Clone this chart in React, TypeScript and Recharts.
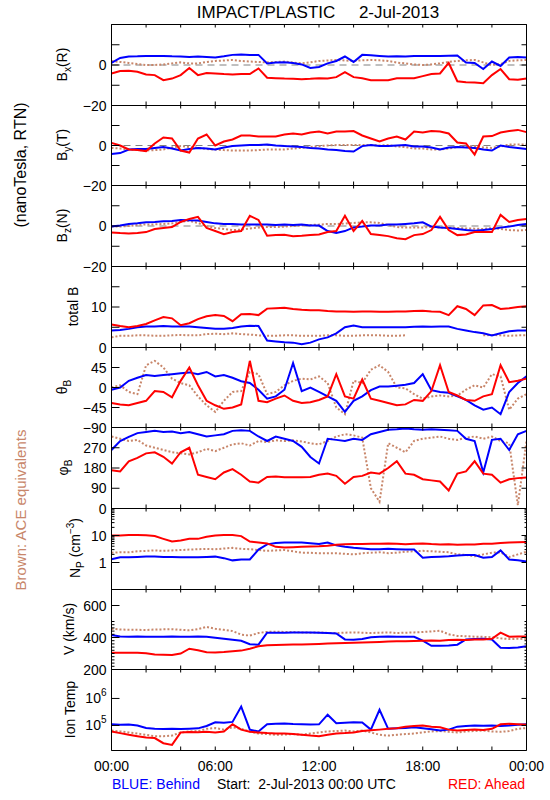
import React from "react";
import { LineChart, Line, XAxis, YAxis, ReferenceLine } from "recharts";

const FONT = "'Liberation Sans', Arial, sans-serif";
const BLUE = "#0000ff";
const RED = "#ff0000";
const BROWN = "#c8866a";

// half-hour samples, 2-Jul-2013 00:00 .. 3-Jul 00:00
const HOURS = [
  0, 0.5, 1, 1.5, 2, 2.5, 3, 3.5, 4, 4.5, 5, 5.5, 6, 6.5, 7, 7.5, 8, 8.5, 9, 9.5, 10, 10.5, 11, 11.5, 12,
  12.5, 13, 13.5, 14, 14.5, 15, 15.5, 16, 16.5, 17, 17.5, 18, 18.5, 19, 19.5, 20, 20.5, 21, 21.5, 22, 22.5,
  23, 23.5, 24,
];
const TIME_TICKS = [0, 2, 4, 6, 8, 10, 12, 14, 16, 18, 20, 22, 24];
const TIME_LABELS = ["00:00", "", "", "06:00", "", "", "12:00", "", "", "18:00", "", "", "00:00"];

// Bx (R)
const BX_BLUE = [1, 3.5, 4.2, 4.3, 4.5, 4.5, 4.5, 4.3, 4.2, 4.0, 4.2, 4.0, 3.7, 4.3, 5.0, 5.2, 5.0, 5.0, 0.8, 1.2, 1.3, 1.0, 0.3, -1.5, -1.0, 0.8, 2.0, 4.2, 1.5, 5.0, 4.8, 4.5, 4.2, 4.3, 4.2, 4.4, 4.5, 4.5, 4.5, 4.6, 4.7, 1.2, 1.0, -2.0, 1.7, -0.5, 3.7, 4.0, 3.7];
const BX_RED = [-4.2, -3.0, -2.8, -3.3, -4.7, -5.0, -7.5, -6.7, -5.0, -1.5, -5.0, -4.0, -4.2, -4.5, -4.7, -4.5, -4.5, -1.7, -6.3, -6.5, -6.7, -6.8, -7.0, -6.8, -6.5, -6.7, -6.0, -3.5, -6.0, -6.5, -7.5, -7.5, -7.5, -6.5, -6.5, -6.5, -5.5, -4.5, -4.2, 1.0, -8.0, -8.5, -8.7, -9.0, -5.0, -2.0, -7.0, -7.3, -6.7];
const BX_ACE = [2, 1.5, 1, 0.5, 0, 0, 0.3, 0.8, 1.3, 0.8, 0.8, 1.5, 2, 2.2, 2.5, 2, 1.7, 1.5, 1.3, 1.5, 1.7, 1.2, 0.8, 1.3, 2, 2.2, 2.5, 2.2, 2, 2.3, 2.5, 2.3, 2, 1.2, 0.8, 0.3, 0, 0.3, 0.8, 1.5, 2, 2.3, 2.5, 1.3, 0, 0.5, 2, 2.3, 2.5];

// By (T)
const BY_BLUE = [-4.2, -3.8, -2, -1.8, -1.7, -1.2, -0.8, -1.5, -2.5, -1.8, -1.2, -1.5, -2, -1, -0.3, 0, 0.2, 0.3, 0.5, 0, -0.3, -0.5, -0.8, -1.2, -1.5, -2, -2.2, -2.8, -3.0, -0.3, 0.2, -0.2, -0.3, 0, 0.2, -0.5, -0.5, -1, -2, -1, -0.8, -1, -1.2, -2, -2.5, 0, -0.8, -1.2, -1.7];
const BY_RED = [1.3, 0, -2, -2.3, -2.8, 1, 4, 3.5, -2.5, -3.5, 3.5, 5.5, 0, 2, 3, 5, 5, 4.5, 4.5, 4.5, 5.5, 6, 5.5, 6.5, 7, 6, 7, 7, 7.2, 5, 3.5, 2, 3.5, 4.5, 3, 7, 6.5, 7.2, 7, 6, 1.5, 1, -4.5, 4.5, 4.7, 6.5, 7.2, 7.8, 6.7];
const BY_ACE = [-1.2, -1.5, -2, -2.2, -2.5, -2.3, -2, -1, -0.3, -0.8, -1.2, -1.8, -2, -2.3, -2.5, -2.5, -2.5, -2.3, -2, -2, -2, -1.5, -1.2, -0.8, -0.3, 0, 0.2, 0.2, 0.2, 0.2, 0.2, 0, 0.2, -0.5, -0.8, -1.5, -1.5, -2, -2, -1.5, -0.8, -0.5, -0.3, -1, -1.2, -0.5, 0.5, 0.5, 0.5];

// Bz (N)
const BZ_BLUE = [-0.3, 0.3, 1, 1.3, 1.8, 2, 2.3, 2.5, 3, 2.8, 2.7, 2, 1.3, 1, 1, 0.8, 0.7, 0.7, 0.7, 0.5, 0.7, 0.5, 0.7, 0.3, 0.2, -2.5, -3.5, -2.5, -0.7, -0.3, 0.2, 0.3, 0.7, 0.7, 1, 1.3, 1.8, -0.3, -0.7, -1, -1.5, -2, -2.3, -2, -1.5, -0.8, -0.3, 0.5, 1];
const BZ_RED = [-3.2, -3.5, -3.7, -3.5, -3, -1.5, -1, -0.5, 2, 3.5, 4.5, -1, -2.5, -4, -3, -2.5, 5, 3, -4.8, -4.5, -4.3, -5, -4.8, -4.5, -4.2, -3, -2.5, 5, -2.5, 2.5, -4, -4.5, -5, -6, -6.5, -4.5, -4, -2, 4.5, -2, -4.5, -4.2, -3, -3, -3, 5.5, 2, 3, 3.5];
const BZ_ACE = [-0.3, -0.3, 0, 0.5, 0.8, 0.8, 1, 1.3, 2, 2.6, 1.5, 0, -1, -1.5, -2, -1.8, -1.2, -0.8, -0.5, -0.5, -0.3, 0, 0.3, 0.5, 0.7, 1, 1, 1.2, 1.5, 1.8, 1.8, 1.5, 0.5, -0.5, -0.8, -0.7, -0.7, -0.5, -0.7, -0.8, -1, -1.2, -1.3, -1.5, -1, -1.5, -2, -2.2, -2];

// total B
const BT_BLUE = [4.2, 4.3, 4.6, 5.0, 5.2, 5.2, 5.3, 5.2, 5.2, 5.2, 5.0, 4.8, 4.6, 4.6, 4.8, 5.2, 5.4, 5.3, 1.7, 1.5, 1.3, 1.2, 0.8, 1.2, 2.0, 2.5, 3.5, 5.0, 5.4, 5.0, 5.0, 5.0, 5.0, 5.0, 5.0, 5.1, 5.2, 5.1, 5.2, 5.2, 4.6, 4.2, 3.8, 3.5, 3.0, 3.5, 4.0, 4.2, 4.2];
const BT_RED = [5.7, 5.3, 5.0, 5.3, 5.8, 6.7, 7.5, 7.2, 5.5, 6.0, 7.0, 7.7, 8.0, 7.8, 6.5, 8.2, 8.3, 8.0, 9.6, 9.7, 9.8, 9.5, 9.3, 9.2, 9.2, 9.0, 8.9, 8.9, 8.8, 8.9, 8.9, 8.8, 8.8, 8.9, 8.9, 9.0, 9.1, 8.9, 8.8, 8.0, 10.2, 9.5, 8.0, 10.4, 10.5, 9.5, 9.7, 10.0, 10.2];
const BT_ACE = [2.5, 2.9, 2.9, 3.0, 3.0, 2.9, 2.9, 3.0, 3.1, 3.0, 3.0, 3.3, 3.4, 3.3, 3.5, 3.3, 3.2, 3.0, 2.9, 2.9, 3.0, 3.0, 2.9, 2.9, 2.9, 3.0, 3.0, 2.9, 2.9, 3.0, 3.0, 3.0, 2.9, 2.9, 3.0, null, null, null, null, null, null, null, null, 3.0, 3.1, 3.0, 2.9, 3.0, 3.0];

// theta B (deg)
const TH_BLUE = [-5, 0, 15, 22, 28, 26, 28, 30, 32, 34, 30, 35, 25, 28, 22, 14, 10, -5, -25, -20, -5, 55, -8, 0, -10, -20, -30, -55, -30, -20, -6, 2, 2, 4, 6, 10, 30, -6, -10, -12, -20, -28, -40, -50, -45, -60, -10, 10, 25];
const TH_RED = [-35, -38, -40, -35, -30, -8, -10, -22, 15, 45, 5, -30, -40, -48, -45, -38, 60, -30, -33, -25, -18, -30, -35, -33, -28, -20, 30, -20, -25, 18, -25, -30, -35, -40, -38, -28, -30, -8, 50, -10, -18, -28, -30, -20, -15, 50, 12, 15, 20];
const TH_ACE = [0, 5, -10, -15, 50, 60, 45, 20, 10, 5, -20, -40, -55, -30, -10, -8, 35, 30, -15, -10, 5, 15, 20, 18, 25, 10, -45, -60, 15, 10, 40, 50, 35, 0, -2, -15, -25, -20, -18, -20, -18, -5, 5, 0, 30, 25, -50, -25, -15];

// phi B (deg)
const PH_BLUE = [260, 300, 318, 335, 340, 345, 340, 342, 335, 340, 330, 320, 325, 330, 345, 348, 345, 320, 300, 320, 310, 300, 274, 229, 200, 310, 305, 300, 310, 305, 330, 340, 350, 352, 355, 352, 350, 352, 350, 348, 345, 310, 300, 160, 305, 310, 260, 330, 345];
const PH_RED = [170, 165, 210, 225, 245, 250, 230, 200, 250, 270, 150, 140, 130, 160, 175, 150, 120, 115, 140, 142, 139, 139, 139, 140, 150, 155, 145, 110, 140, 145, 160, 155, 180, 210, 155, 150, 130, 125, 120, 80, 155, 165, 210, 155, 150, 115, 130, 135, 138];
const PH_ACE = [320, 310, 300, 305, 280, 270, 260, 250, 245, 240, 250, 265, 255, 270, 285, 290, 280, 300, 295, 303, 300, 303, 298, 290, 285, 300, 320, 330, 325, 315, 90, 30, 290, 270, 250, 300, 310, 315, 320, 310, 305, 315, 320, 310, 320, 300, 290, 15, 300];

// Np (cm^-3)
const NP_BLUE = [1.33, 1.55, 1.55, 1.6, 1.66, 1.66, 1.6, 1.6, 1.55, 1.55, 1.55, 1.6, 1.65, 1.45, 1.2, 1.3, 1.3, 3, 4.7, 5.3, 5.5, 5.5, 5.5, 5.2, 4.8, 5.5, 4.3, 3.8, 3.5, 3.3, 3.1, 3.1, 3.2, 3.1, 3, 3, 1.5, 1.6, 1.65, 1.7, 1.8, 1.9, 1.9, 1.5, 1.6, 2.8, 1.3, 1.2, 1.1];
const NP_RED = [10, 10, 10.5, 10.5, 10.3, 9.5, 7.5, 6, 6.5, 7.5, 7.5, 9, 10, 10.5, 10.5, 9.5, 6, 5.5, 5.1, 3.8, 3.6, 3.7, 3.8, 3.9, 4, 4.2, 4.5, 4.7, 4.8, 4.8, 4.9, 5, 5.1, 4.9, 4.7, 4.9, 5.1, 4.8, 4.6, 4.7, 4.5, 4.6, 4.6, 4.9, 5, 5.3, 5.5, 5.6, 5.7];
const NP_ACE = [2.3, 2.4, 2.4, 2.6, 2.7, 2.8, 2.7, 2.8, 2.9, 3.0, 3.1, 3.2, 3.1, 3.3, 3.5, 3.2, 3.1, 2.9, 2.7, 2.8, 2.9, 2.6, 2.3, 2.3, 2.2, 2.2, 2.2, 2.1, 2.0, 2.2, 2.3, 2.4, 2.2, 2.3, 2.5, 2.6, 2.7, 2.6, 2.5, 2.4, 2.0, 1.9, 1.7, 2.0, 2.3, 2.4, 1.6, 2.0, 2.5];

// V (km/s)
const V_BLUE = [415, 406, 405, 406, 404, 405, 405, 406, 404, 405, 406, 404, 398, 392, 386, 380, 358, 355, 430, 430, 430, 432, 431, 432, 430, 428, 425, 388, 386, 390, 402, 405, 406, 404, 405, 404, 380, 348, 349, 350, 355, 388, 390, 392, 388, 336, 335, 338, 345];
const V_RED = [304, 304, 305, 304, 302, 294, 292, 291, 300, 330, 320, 308, 307, 309, 314, 318, 330, 345, 352, 353, 355, 357, 357, 358, 360, 362, 364, 365, 367, 368, 370, 372, 375, 377, 376, 378, 380, 382, 380, 385, 386, 385, 388, 387, 392, 430, 405, 406, 406];
const V_ACE = [455, 450, 448, 448, 447, 450, 451, 452, 448, 445, 452, 466, 455, 448, 440, 418, 412, 428, 435, 436, 435, 434, 432, 430, 432, 428, 428, 430, 432, 430, 428, 430, 432, 428, 430, 432, 434, 438, 442, 420, 410, 408, 405, 404, 402, 395, 390, 392, 390];

// Ion temperature (K)
const T_BLUE = [110000, 105000, 108000, 100000, 80000, 76000, 74000, 75000, 74000, 76000, 78000, 95000, 130000, 125000, 135000, 500000, 70000, 60000, 110000, 115000, 118000, 112000, 110000, 108000, 110000, 250000, 120000, 125000, 130000, 128000, 70000, 380000, 75000, 78000, 80000, 85000, 78000, 72000, 65000, 70000, 90000, 95000, 100000, 98000, 100000, 95000, 100000, 105000, 110000];
const T_RED = [60000, 52000, 45000, 40000, 36000, 34000, 22000, 19000, 55000, 57000, 56000, 58000, 55000, 60000, 110000, 70000, 58000, 55000, 52000, 50000, 50000, 48000, 45000, 42000, 40000, 45000, 50000, 52000, 55000, 62000, 66000, 70000, 75000, 78000, 90000, 95000, 100000, 90000, 85000, 70000, 65000, 68000, 70000, 68000, 75000, 110000, 115000, 110000, 105000];
const T_ACE = [65000, 60000, 55000, 50000, 45000, 40000, 40000, 42000, 55000, 60000, 62000, 75000, 80000, 70000, 85000, 75000, 60000, 50000, 48000, 45000, 46000, 48000, 45000, 50000, 55000, 60000, 62000, 65000, 60000, 65000, 55000, 45000, 42000, 45000, 48000, 50000, 55000, 60000, 62000, 58000, 55000, 60000, 62000, 65000, 60000, 58000, 62000, 75000, 80000];

// y tick values / labels
const B_TICKS = [-20, -10, 0, 10, 20];
const B_LABELS = ["\u221220", "", "0", "", ""];
const BT_TICKS = [0, 5, 10, 15, 20];
const BT_LABELS = ["0", "", "10", "", ""];
const TH_TICKS = [-90, -45, 0, 45, 90];
const TH_LABELS = ["\u221290", "\u221245", "0", "45", ""];
const PH_TICKS = [0, 90, 180, 270, 360];
const PH_LABELS = ["0", "90", "180", "270", ""];
const NP_TICKS = [1, 10];
const NP_LABELS = ["1", "10"];
const NP_MINOR = [2, 3, 4, 5, 6, 7, 8, 9, 20, 30, 40, 50, 60, 70, 80, 90];
const V_TICKS = [200, 400, 600];
const V_LABELS = ["200", "400", "600"];
const V_MINOR = [220, 240, 260, 280, 300, 320, 340, 360, 380, 420, 440, 460, 480, 500];
const T_TICKS = [1e5, 1e6];
const T_LABELS = ["10^5", "10^6"];

type Val = number | null;
interface PanelDef {
  top: number;
  h: number;
  blue: Val[];
  red: Val[];
  ace: Val[];
  domain: [number, number];
  log?: boolean;
  major: number[];
  labels: string[];
  minor?: number[];
  zero?: boolean;
}

const PANELS: PanelDef[] = [
  { top: 24, h: 81, blue: BX_BLUE, red: BX_RED, ace: BX_ACE, domain: [-20, 20], major: B_TICKS, labels: B_LABELS, zero: true },
  { top: 105, h: 80, blue: BY_BLUE, red: BY_RED, ace: BY_ACE, domain: [-20, 20], major: B_TICKS, labels: B_LABELS, zero: true },
  { top: 185, h: 81, blue: BZ_BLUE, red: BZ_RED, ace: BZ_ACE, domain: [-20, 20], major: B_TICKS, labels: B_LABELS, zero: true },
  { top: 266, h: 81, blue: BT_BLUE, red: BT_RED, ace: BT_ACE, domain: [0, 20], major: BT_TICKS, labels: BT_LABELS },
  { top: 347, h: 80, blue: TH_BLUE, red: TH_RED, ace: TH_ACE, domain: [-90, 90], major: TH_TICKS, labels: TH_LABELS },
  { top: 427, h: 81, blue: PH_BLUE, red: PH_RED, ace: PH_ACE, domain: [0, 360], major: PH_TICKS, labels: PH_LABELS },
  { top: 508, h: 81, blue: NP_BLUE, red: NP_RED, ace: NP_ACE, domain: [0.1, 100], log: true, major: NP_TICKS, labels: NP_LABELS, minor: NP_MINOR },
  { top: 589, h: 80, blue: V_BLUE, red: V_RED, ace: V_ACE, domain: [200, 700], major: V_TICKS, labels: V_LABELS, minor: V_MINOR },
  { top: 669, h: 81, blue: T_BLUE, red: T_RED, ace: T_ACE, domain: [11800, 11800000], log: true, major: T_TICKS, labels: T_LABELS },
];

function TickLabel({ x, y, label }: { x: number; y: number; label: string }) {
  const [base, sup] = label.split("^");
  return (
    <text x={x} y={y} dy="0.36em" textAnchor="end" fontSize={14} fontFamily={FONT} fill="#000">
      {base}
      {sup ? (
        <tspan dy={-7} fontSize={10}>
          {sup}
        </tspan>
      ) : null}
    </text>
  );
}

function Panel({ def, last }: { def: PanelDef; last: boolean }) {
  const data = HOURS.map((h, i) => ({ h, blue: def.blue[i], red: def.red[i], ace: def.ace[i] }));
  const minor = def.minor ?? [];
  const yTicks = [...def.major, ...minor];
  const bottomAxisH = last ? 31 : 1;
  const isMajor = (v: number) => def.major.indexOf(v) >= 0;

  const leftTick = (props: any) => {
    const { x, y, payload } = props;
    const i = def.major.indexOf(payload.value);
    const len = i >= 0 ? 8 : 3;
    return (
      <g>
        <path d={`M${x},${y}H${x + len}`} stroke="#000" strokeWidth={1} fill="none" />
        {i >= 0 && def.labels[i] ? <TickLabel x={x - 5} y={y} label={def.labels[i]} /> : null}
      </g>
    );
  };
  const rightTick = (props: any) => {
    const { x, y, payload } = props;
    const len = isMajor(payload.value) ? 5 : 2;
    return <path d={`M${x},${y}H${x - len}`} stroke="#000" strokeWidth={1} fill="none" />;
  };
  const bottomTick = (props: any) => {
    const { x, y, index } = props;
    return (
      <g>
        <path d={`M${x},${y}V${y - 4}`} stroke="#000" strokeWidth={1} fill="none" />
        {last && TIME_LABELS[index] ? (
          <text x={x} y={y + 20} textAnchor="middle" fontSize={14} fontFamily={FONT} fill="#000">
            {TIME_LABELS[index]}
          </text>
        ) : null}
      </g>
    );
  };
  const topTick = (props: any) => {
    const { x, y } = props;
    return <path d={`M${x},${y}V${y + 3}`} stroke="#000" strokeWidth={1} fill="none" />;
  };

  return (
    <div style={{ position: "absolute", left: 0, top: def.top - 2 }}>
      <LineChart
        width={550}
        height={def.h + 2.5 + bottomAxisH + 0.5}
        data={data}
        margin={{ top: 1.5, right: 0, bottom: 0.5, left: 0 }}
      >
        <XAxis
          xAxisId="b"
          dataKey="h"
          type="number"
          domain={[0, 24]}
          ticks={TIME_TICKS}
          interval={0}
          height={bottomAxisH}
          tickSize={0}
          tickMargin={0}
          tickLine={false}
          tick={bottomTick}
          axisLine={{ stroke: "#000", strokeWidth: 1 }}
          allowDataOverflow
        />
        <XAxis
          xAxisId="t"
          orientation="top"
          dataKey="h"
          type="number"
          domain={[0, 24]}
          ticks={TIME_TICKS}
          interval={0}
          height={1}
          tickSize={0}
          tickMargin={0}
          tickLine={false}
          tick={topTick}
          axisLine={{ stroke: "#000", strokeWidth: 1 }}
          allowDataOverflow
        />
        <YAxis
          yAxisId="l"
          width={111.5}
          type="number"
          scale={def.log ? "log" : "linear"}
          domain={def.domain}
          ticks={yTicks}
          interval={0}
          tickSize={0}
          tickMargin={0}
          tickLine={false}
          tick={leftTick}
          axisLine={{ stroke: "#000", strokeWidth: 1 }}
          allowDataOverflow
        />
        <YAxis
          yAxisId="r"
          orientation="right"
          width={23.5}
          type="number"
          scale={def.log ? "log" : "linear"}
          domain={def.domain}
          ticks={yTicks}
          interval={0}
          tickSize={0}
          tickMargin={0}
          tickLine={false}
          tick={rightTick}
          axisLine={{ stroke: "#000", strokeWidth: 1 }}
          allowDataOverflow
        />
        {def.zero ? (
          <ReferenceLine xAxisId="b" yAxisId="l" y={0} stroke="#808080" strokeDasharray="7 5" />
        ) : null}
        <Line
          xAxisId="b"
          yAxisId="l"
          dataKey="ace"
          stroke={BROWN}
          strokeWidth={2}
          strokeDasharray="2 2"
          dot={false}
          isAnimationActive={false}
        />
        <Line xAxisId="b" yAxisId="l" dataKey="blue" stroke={BLUE} strokeWidth={2} dot={false} isAnimationActive={false} />
        <Line xAxisId="b" yAxisId="l" dataKey="red" stroke={RED} strokeWidth={2} dot={false} isAnimationActive={false} />
      </LineChart>
    </div>
  );
}

function SideLabel({ x, y, size = 14, color = "#000", children }: any) {
  return (
    <text
      transform={`translate(${x},${y}) rotate(-90)`}
      textAnchor="middle"
      fontSize={size}
      fontFamily={FONT}
      fill={color}
    >
      {children}
    </text>
  );
}

export default function App() {
  return (
    <div style={{ position: "absolute", left: 0, top: 0, width: 550, height: 800, background: "#fff" }}>
      <style>{`.recharts-surface{overflow:visible}`}</style>
      {PANELS.map((p, i) => (
        <Panel key={i} def={p} last={i === PANELS.length - 1} />
      ))}
      <svg width={550} height={800} style={{ position: "absolute", left: 0, top: 0, pointerEvents: "none" }}>
        <text x={318} y={18} textAnchor="middle" fontSize={17} fontFamily={FONT} style={{ whiteSpace: "pre" }}>
          IMPACT/PLASTIC     2-Jul-2013
        </text>

        <SideLabel x={26} y={165} size={16}>(nanoTesla, RTN)</SideLabel>
        <SideLabel x={26} y={510} size={15} color={BROWN}>Brown: ACE equivalents</SideLabel>

        <SideLabel x={67} y={64.5}>
          B<tspan dy={4} fontSize={10}>x</tspan>
          <tspan dy={-4}>(R)</tspan>
        </SideLabel>
        <SideLabel x={67} y={145}>
          B<tspan dy={4} fontSize={10}>y</tspan>
          <tspan dy={-4}>(T)</tspan>
        </SideLabel>
        <SideLabel x={67} y={225.5}>
          B<tspan dy={4} fontSize={10}>z</tspan>
          <tspan dy={-4}>(N)</tspan>
        </SideLabel>
        <SideLabel x={78} y={306.5}>total B</SideLabel>
        <SideLabel x={67} y={387}>
          {"\u03b8"}
          <tspan dy={4} fontSize={10}>B</tspan>
        </SideLabel>
        <SideLabel x={68} y={467.5}>
          {"\u03c6"}
          <tspan dy={4} fontSize={10}>B</tspan>
        </SideLabel>
        <SideLabel x={80} y={548}>
          N<tspan dy={4} fontSize={10}>P</tspan>
          <tspan dy={-4}> (cm</tspan>
          <tspan dy={-6} fontSize={10}>{"\u22123"}</tspan>
          <tspan dy={6}>)</tspan>
        </SideLabel>
        <SideLabel x={74} y={629}>V (km/s)</SideLabel>
        <SideLabel x={75} y={709.5}>Ion Temp</SideLabel>

        <text x={112} y={789} fontSize={14} fontFamily={FONT} fill={BLUE}>
          BLUE: Behind
        </text>
        <text x={217} y={789} fontSize={14} fontFamily={FONT} fill="#000" style={{ whiteSpace: "pre" }}>
          Start:  2-Jul-2013 00:00 UTC
        </text>
        <text x={525} y={789} textAnchor="end" fontSize={14} fontFamily={FONT} fill={RED}>
          RED: Ahead
        </text>
      </svg>
    </div>
  );
}
